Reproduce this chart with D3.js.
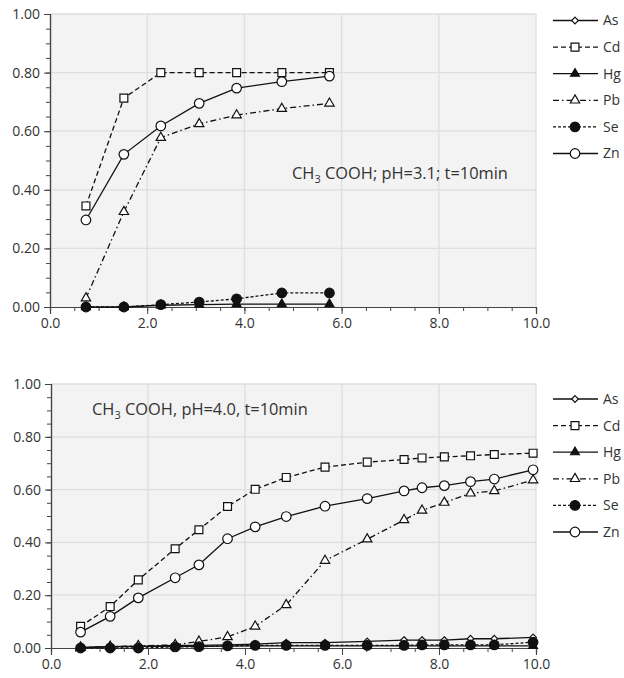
<!DOCTYPE html>
<html>
<head>
<meta charset="utf-8">
<script src="https://cdn.jsdelivr.net/npm/d3@7"></script>
<style>
  body { margin: 0; background: #fff; }
  text { font-family: "Open Sans", sans-serif; fill: #333; }
</style>
</head>
<body>
<div id="chart"></div>
<script>
// top panel: pH 3.1 (no As points drawn in this panel)
var topX  = [0.74, 1.52, 2.28, 3.07, 3.84, 4.77, 5.75];
var topAs = [];
var topCd = [0.345, 0.713, 0.80, 0.80, 0.80, 0.80, 0.80];
var topHg = [0, 0, 0.006, 0.008, 0.01, 0.01, 0.01];
var topPb = [0.03, 0.325, 0.578, 0.625, 0.655, 0.677, 0.695];
var topSe = [0, 0, 0.008, 0.017, 0.028, 0.048, 0.048];
var topZn = [0.297, 0.521, 0.618, 0.695, 0.747, 0.769, 0.788];

// bottom panel: pH 4.0
var botX  = [0.61, 1.22, 1.80, 2.56, 3.05, 3.64, 4.21, 4.85, 5.65, 6.52, 7.28, 7.65, 8.11, 8.65, 9.14, 9.94];
var botAs = [0, 0.005, 0.006, 0.01, 0.01, 0.012, 0.015, 0.02, 0.02, 0.025, 0.03, 0.03, 0.03, 0.035, 0.035, 0.04];
var botCd = [0.082, 0.157, 0.258, 0.376, 0.448, 0.536, 0.601, 0.646, 0.685, 0.704, 0.714, 0.72, 0.724, 0.728, 0.733, 0.738];
var botHg = [0.002, 0.005, 0.006, 0.006, 0.006, 0.007, 0.008, 0.008, 0.008, 0.008, 0.008, 0.008, 0.008, 0.008, 0.008, 0.008];
var botPb = [0.002, 0.005, 0.008, 0.012, 0.025, 0.042, 0.082, 0.163, 0.331, 0.412, 0.485, 0.521, 0.551, 0.586, 0.595, 0.636];
var botSe = [0, 0, 0, 0.004, 0.005, 0.008, 0.01, 0.01, 0.01, 0.01, 0.01, 0.012, 0.012, 0.012, 0.012, 0.022];
var botZn = [0.06, 0.12, 0.19, 0.266, 0.315, 0.414, 0.459, 0.498, 0.537, 0.566, 0.595, 0.607, 0.615, 0.63, 0.64, 0.675];

var seriesNames = ['As', 'Cd', 'Hg', 'Pb', 'Se', 'Zn'];
var xTicks = [0, 2, 4, 6, 8, 10];
var yTicks = [0, 0.2, 0.4, 0.6, 0.8, 1.0];

// how each metal is drawn
var styles = {
    As: { sym: d3.symbolDiamond2, size: 28, fill: '#fff', dash: null },
    Cd: { sym: d3.symbolSquare, size: 62, fill: '#fff', dash: '5,3' },
    Hg: { sym: d3.symbolTriangle, size: 34, fill: '#111', dash: null },
    Pb: { sym: d3.symbolTriangle, size: 38, fill: '#fff', dash: '6,3,1.5,3' },
    Se: { sym: d3.symbolCircle, size: 72, fill: '#111', dash: '3,2' },
    Zn: { sym: d3.symbolCircle, size: 72, fill: '#fff', dash: null }
};

var svg = d3.select('#chart')
    .append('svg')
        .attr('width', 624)
        .attr('height', 678);

function drawPanel(opts) {
    var x = d3.scaleLinear().domain([0, 10]).range([opts.left, opts.right]);
    var y = d3.scaleLinear().domain([0, 1]).range([opts.bottom, opts.top]);
    var g = svg.append('g');

    g.append('rect')
        .attr('x', opts.left).attr('y', opts.top)
        .attr('width', opts.right - opts.left)
        .attr('height', opts.bottom - opts.top)
        .attr('fill', '#f3f3f3');

    // grid
    g.selectAll('.gx').data(xTicks.slice(1)).enter().append('line')
        .attr('x1', function (d) { return x(d); }).attr('x2', function (d) { return x(d); })
        .attr('y1', opts.top).attr('y2', opts.bottom)
        .attr('stroke', '#dedede').attr('stroke-width', 1.3);
    g.selectAll('.gy').data(yTicks.slice(1)).enter().append('line')
        .attr('x1', opts.left).attr('x2', opts.right)
        .attr('y1', function (d) { return y(d); }).attr('y2', function (d) { return y(d); })
        .attr('stroke', '#dedede').attr('stroke-width', 1.3);

    // axes, minor ticks first
    var yMinor = d3.axisLeft(y).ticks(25).tickSize(4).tickFormat('');
    var xMinor = d3.axisBottom(x).ticks(25).tickSize(4).tickFormat('');
    g.append('g').attr('transform', 'translate(' + opts.left + ',0)').call(yMinor);
    g.append('g').attr('transform', 'translate(0,' + opts.bottom + ')').call(xMinor);

    var yAxis = d3.axisLeft(y).tickValues(yTicks).tickSize(6).tickPadding(4)
        .tickFormat(d3.format('.2f'));
    var xAxis = d3.axisBottom(x).tickValues(xTicks).tickSize(7).tickPadding(4)
        .tickFormat(d3.format('.1f'));
    g.append('g').attr('transform', 'translate(' + opts.left + ',0)').call(yAxis);
    g.append('g').attr('transform', 'translate(0,' + opts.bottom + ')').call(xAxis);

    g.selectAll('.domain').attr('stroke', '#444').attr('stroke-width', 1.2);
    g.selectAll('.tick line').attr('stroke', '#444');
    g.selectAll('.tick text').style('font-size', '14px').attr('fill', '#333');

    // series
    var line = d3.line()
        .x(function (d) { return x(d[0]); })
        .y(function (d) { return y(d[1]); });

    seriesNames.forEach(function (name) {
        var st = styles[name];
        var vals = opts.series[name];
        if (!vals.length) return;
        var pts = opts.xs.map(function (v, i) { return [v, vals[i]]; });
        g.append('path')
            .datum(pts)
            .attr('d', line)
            .attr('fill', 'none')
            .attr('stroke', '#111')
            .attr('stroke-width', 1.3)
            .attr('stroke-dasharray', st.dash);
        g.selectAll('.m' + name).data(pts).enter().append('path')
            .attr('d', d3.symbol().type(st.sym).size(st.size))
            .attr('transform', function (d) { return 'translate(' + x(d[0]) + ',' + y(d[1]) + ')'; })
            .attr('fill', st.fill)
            .attr('stroke', '#111')
            .attr('stroke-width', 1.2);
    });

    // annotation
    var t = g.append('text')
        .attr('x', opts.noteX).attr('y', opts.noteY)
        .style('font-size', '16.4px').attr('fill', '#333');
    t.append('tspan').text('CH');
    t.append('tspan').attr('dy', 4).style('font-size', '11px').text('3');
    t.append('tspan').attr('dy', -4).text(' ' + opts.note);

    // legend
    var lg = g.selectAll('.lg').data(seriesNames).enter().append('g')
        .attr('transform', function (d, i) { return 'translate(553,' + (opts.legendTop + i * 26.6) + ')'; });
    lg.append('line')
        .attr('x1', 0).attr('x2', 45).attr('y1', 0).attr('y2', 0)
        .attr('stroke', '#111').attr('stroke-width', 1.3)
        .attr('stroke-dasharray', function (d) { return styles[d].dash; });
    lg.append('path')
        .attr('d', function (d) { return d3.symbol().type(styles[d].sym).size(styles[d].size)(); })
        .attr('transform', 'translate(22,0)')
        .attr('fill', function (d) { return styles[d].fill; })
        .attr('stroke', '#111').attr('stroke-width', 1.2);
    lg.append('text')
        .attr('x', 50).attr('dy', '0.35em')
        .style('font-size', '14px')
        .text(function (d) { return d; });
}

drawPanel({
    left: 50, right: 536, top: 14, bottom: 307,
    xs: topX,
    series: { As: topAs, Cd: topCd, Hg: topHg, Pb: topPb, Se: topSe, Zn: topZn },
    note: 'COOH; pH=3.1; t=10min', noteX: 292, noteY: 179,
    legendTop: 20.5
});

drawPanel({
    left: 51, right: 536, top: 384, bottom: 648,
    xs: botX,
    series: { As: botAs, Cd: botCd, Hg: botHg, Pb: botPb, Se: botSe, Zn: botZn },
    note: 'COOH, pH=4.0, t=10min', noteX: 92, noteY: 415,
    legendTop: 399
});
</script>
</body>
</html>
